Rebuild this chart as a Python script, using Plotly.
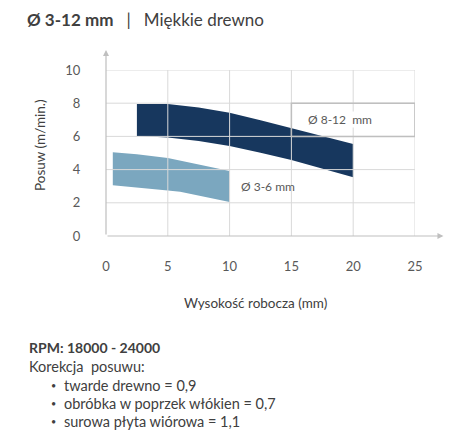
import plotly.graph_objects as go

# band "Ø 8-12 mm"
big_x = [2.5, 5, 7.5, 10, 12.5, 15, 17.5, 20]
big_upper = [7.95, 7.95, 7.74, 7.42, 6.98, 6.5, 6.02, 5.54]
big_lower = [6.02, 5.94, 5.72, 5.42, 5.02, 4.58, 4.08, 3.54]

# band "Ø 3-6 mm"
small_x = [0.55, 2.5, 5, 6, 7.5, 10]
small_upper = [5.05, 4.92, 4.7, 4.54, 4.3, 3.92]
small_lower = [3.05, 2.92, 2.74, 2.66, 2.45, 2.05]

x_ticks = [0, 5, 10, 15, 20, 25]
y_ticks = [0, 2, 4, 6, 8, 10]

notes = ["twarde drewno = 0,9", "obróbka w poprzek włókien = 0,7", "surowa płyta wiórowa = 1,1"]

FONT = "Lato"
GRID = "#d9d9d9"
TXT = "#404040"

# page body has an 8px margin, so the figure is 8px smaller than the window
W, H = 467, 437
ML, MT = 98, 62

fig = go.Figure()

fig.add_trace(go.Scatter(
    x=big_x + big_x[::-1],
    y=big_upper + big_lower[::-1],
    fill="toself", fillcolor="#17375e",
    mode="lines", line=dict(width=0), hoverinfo="skip",
))
fig.add_trace(go.Scatter(
    x=small_x + small_x[::-1],
    y=small_upper + small_lower[::-1],
    fill="toself", fillcolor="#7ba7bf",
    mode="lines", line=dict(width=0), hoverinfo="skip",
))

# grid drawn over the bands
for v in x_ticks[1:]:
    fig.add_shape(type="line", x0=v, x1=v, y0=0, y1=10, layer="above",
                  line=dict(color=GRID, width=1))
for v in y_ticks[1:]:
    fig.add_shape(type="line", x0=0, x1=25, y0=v, y1=v, layer="above",
                  line=dict(color=GRID, width=1))
fig.add_shape(type="rect", x0=15, x1=25, y0=6, y1=8, layer="above",
              line=dict(color="#bfbfbf", width=1.5))

# axes with arrows
fig.add_annotation(x=0, y=11.2, ax=0, ay=0, axref="x", ayref="y", text="",
                   showarrow=True, arrowhead=2, arrowsize=1, arrowwidth=1.2,
                   arrowcolor="#bfbfbf")
fig.add_annotation(x=27.3, y=0, ax=0, ay=0, axref="x", ayref="y", text="",
                   showarrow=True, arrowhead=2, arrowsize=1, arrowwidth=1.2,
                   arrowcolor="#bfbfbf")

fig.add_annotation(x=18.9, y=7.0, text="Ø 8-12  mm", showarrow=False,
                   bgcolor="white", borderpad=0,
                   font=dict(family=FONT, size=12, color="#595959"))
fig.add_annotation(x=10.8, y=3.0, text="Ø 3-6 mm", showarrow=False, xanchor="left",
                   font=dict(family=FONT, size=12, color="#595959"))


# positions below are given in window pixels, turned into paper coords
def px_x(p):
    return (p - 106) / 309


def px_y(p):
    return (236 - p) / 166


# axis titles
fig.add_annotation(xref="paper", yref="paper", x=px_x(255), y=px_y(303),
                   xanchor="center", yanchor="middle",
                   text="Wysokość robocza (mm)", showarrow=False,
                   font=dict(family=FONT, size=13.5, color=TXT))
fig.add_annotation(xref="paper", yref="paper", x=px_x(40), y=px_y(145), textangle=-90,
                   xanchor="center", yanchor="middle",
                   text="Posuw (m/min.)", showarrow=False,
                   font=dict(family=FONT, size=13.5, color=TXT))

# notes below the chart
fig.add_annotation(xref="paper", yref="paper", x=px_x(27), y=px_y(347),
                   xanchor="left", yanchor="middle",
                   text="<b>RPM: 18000 - 24000</b>", showarrow=False,
                   font=dict(family=FONT, size=14, color=TXT))
fig.add_annotation(xref="paper", yref="paper", x=px_x(27), y=px_y(366),
                   xanchor="left", yanchor="middle",
                   text="Korekcja\u00a0 posuwu:", showarrow=False,
                   font=dict(family=FONT, size=14.5, color=TXT))
for i, n in enumerate(notes):
    yy = px_y(385 + i * 18.5)
    fig.add_annotation(xref="paper", yref="paper", x=px_x(49), y=yy,
                       xanchor="left", yanchor="middle",
                       text="•", showarrow=False,
                       font=dict(family=FONT, size=9, color=TXT))
    fig.add_annotation(xref="paper", yref="paper", x=px_x(62), y=yy,
                       xanchor="left", yanchor="middle",
                       text=n, showarrow=False,
                       font=dict(family=FONT, size=14.5, color=TXT))

fig.update_layout(
    width=W, height=H,
    margin=dict(l=ML, r=W - ML - 309, t=MT, b=H - MT - 166),
    plot_bgcolor="white", paper_bgcolor="white",
    showlegend=False,
    title=dict(text="<b>Ø 3-12 mm</b>\u00a0\u00a0 |\u00a0\u00a0 Miękkie drewno",
               x=19 / W, xanchor="left", y=1 - 12 / H, yanchor="middle",
               font=dict(family=FONT, size=17, color=TXT)),
    xaxis=dict(range=[0, 25], tickvals=x_ticks, showgrid=False, zeroline=False,
               showline=False, ticks="outside", ticklen=18, tickcolor="rgba(0,0,0,0)",
               tickfont=dict(family=FONT, size=13, color="#595959")),
    yaxis=dict(range=[0, 10], tickvals=y_ticks, showgrid=False, zeroline=False,
               showline=False, ticks="outside", ticklen=22, tickcolor="rgba(0,0,0,0)",
               tickfont=dict(family=FONT, size=13, color="#595959")),
)

fig.write_html("out.html")
